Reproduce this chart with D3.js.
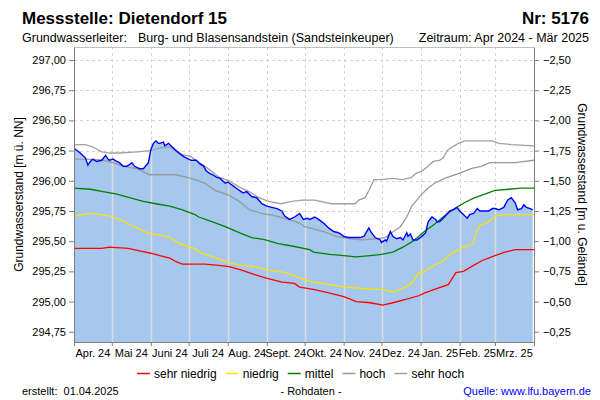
<!DOCTYPE html>
<html><head><meta charset="utf-8">
<script src="https://cdn.jsdelivr.net/npm/d3@7"></script>
<style>body{margin:0;background:#fff} svg{display:block;font-family:"Liberation Sans",Arial,sans-serif}</style>
</head><body><svg id="c" width="600" height="400"></svg>
<script>
// ---- data (day = days since 1 Apr 2024, value = m ü. NN) ----
const startDate = "2024-04-01";
const endDate = "2025-04-01";
const monthLabels = ["Apr. 24","Mai 24","Juni 24","Juli 24","Aug. 24","Sept. 24","Okt. 24","Nov. 24","Dez. 24","Jan. 25","Feb. 25","Mrz. 25"];
const leftTicks = [294.75,295.00,295.25,295.50,295.75,296.00,296.25,296.50,296.75,297.00];
const rightTicks = [-0.25,-0.50,-0.75,-1.00,-1.25,-1.50,-1.75,-2.00,-2.25,-2.50];
const groundLevel = 294.5;
const yLimits = [294.665, 297.108];

const measured = [[0,296.27],[5,296.23],[9,296.19],[11,296.13],[13,296.16],[15,296.18],[18,296.16],[22,296.17],[25,296.21],[27,296.18],[28,296.17],[31,296.18],[34,296.16],[36,296.15],[39,296.12],[42,296.12],[46,296.15],[48,296.12],[52,296.10],[55,296.10],[59,296.15],[61,296.26],[63,296.31],[65,296.33],[67,296.31],[68,296.31],[71,296.32],[72,296.29],[75,296.31],[78,296.28],[81,296.25],[87,296.20],[93,296.17],[97,296.17],[100,296.14],[103,296.12],[105,296.08],[108,296.06],[110,296.05],[113,296.03],[116,296.02],[120,295.98],[122,295.99],[126,295.96],[130,295.93],[134,295.90],[137,295.91],[141,295.87],[145,295.86],[149,295.81],[153,295.79],[157,295.78],[161,295.77],[165,295.75],[167,295.71],[171,295.68],[175,295.70],[179,295.73],[182,295.68],[185,295.69],[187,295.68],[191,295.70],[194,295.68],[198,295.65],[202,295.61],[206,295.58],[210,295.57],[214,295.54],[218,295.53],[222,295.53],[227,295.53],[230,295.54],[234,295.61],[236,295.57],[239,295.53],[243,295.51],[244,295.49],[247,295.51],[248,295.50],[251,295.58],[253,295.54],[256,295.52],[259,295.53],[261,295.51],[264,295.57],[265,295.54],[267,295.56],[269,295.51],[272,295.51],[276,295.54],[279,295.57],[281,295.66],[284,295.70],[287,295.68],[288,295.66],[290,295.66],[294,295.70],[298,295.75],[301,295.76],[304,295.78],[306,295.75],[309,295.72],[312,295.69],[314,295.72],[317,295.73],[320,295.77],[322,295.75],[326,295.75],[329,295.75],[332,295.77],[334,295.77],[337,295.76],[341,295.78],[344,295.84],[347,295.86],[350,295.82],[352,295.76],[355,295.77],[357,295.80],[359,295.78],[362,295.77],[364,295.76]];

const sehrHoch = [[0,296.30],[9,296.30],[15,296.28],[22,296.24],[28,296.23],[36,296.23],[50,296.24],[60,296.25],[68,296.27],[73,296.28],[76,296.28],[84,296.22],[93,296.20],[98,296.16],[104,296.12],[109,296.08],[115,296.03],[123,296.00],[131,295.95],[139,295.91],[147,295.86],[154,295.83],[164,295.81],[173,295.83],[181,295.84],[191,295.84],[204,295.81],[214,295.81],[223,295.81],[226,295.84],[231,295.86],[234,295.92],[238,296.01],[243,296.01],[253,296.02],[261,296.01],[268,296.03],[271,296.06],[276,296.08],[281,296.12],[285,296.16],[290,296.17],[293,296.19],[296,296.25],[300,296.28],[305,296.31],[310,296.33],[318,296.33],[332,296.33],[337,296.31],[347,296.30],[365,296.29]];

const hoch = [[0,296.18],[10,296.18],[23,296.17],[31,296.15],[39,296.12],[50,296.10],[60,296.05],[71,296.05],[81,296.05],[89,296.03],[96,296.01],[104,295.98],[112,295.92],[123,295.88],[131,295.83],[139,295.76],[149,295.73],[160,295.71],[170,295.68],[179,295.65],[183,295.62],[187,295.61],[198,295.58],[208,295.54],[219,295.52],[228,295.51],[240,295.52],[247,295.53],[252,295.57],[259,295.62],[264,295.70],[268,295.79],[272,295.84],[276,295.89],[281,295.94],[286,295.98],[294,296.02],[305,296.06],[315,296.10],[323,296.12],[330,296.15],[340,296.15],[350,296.15],[365,296.17]];

const mittel = [[0,295.94],[13,295.93],[23,295.91],[34,295.89],[44,295.86],[55,295.83],[65,295.81],[76,295.79],[86,295.76],[96,295.72],[99,295.70],[110,295.66],[120,295.62],[131,295.57],[141,295.53],[152,295.51],[162,295.48],[173,295.46],[187,295.43],[190,295.41],[203,295.39],[214,295.38],[224,295.37],[235,295.38],[244,295.39],[253,295.41],[261,295.45],[269,295.50],[278,295.58],[286,295.64],[294,295.71],[302,295.77],[310,295.82],[318,295.86],[326,295.89],[334,295.92],[345,295.93],[355,295.94],[365,295.94]];

const niedrig = [[0,295.71],[7,295.72],[13,295.73],[21,295.72],[28,295.71],[36,295.68],[44,295.64],[52,295.60],[60,295.56],[68,295.55],[76,295.53],[84,295.48],[91,295.45],[96,295.44],[99,295.41],[110,295.37],[123,295.32],[133,295.30],[144,295.29],[154,295.26],[168,295.24],[178,295.20],[187,295.17],[190,295.16],[203,295.14],[216,295.12],[227,295.11],[238,295.10],[245,295.10],[253,295.08],[261,295.11],[268,295.15],[273,295.23],[278,295.25],[284,295.29],[292,295.33],[300,295.40],[307,295.44],[317,295.48],[319,295.57],[322,295.63],[329,295.66],[335,295.71],[344,295.72],[350,295.72],[365,295.72]];

const sehrNiedrig = [[0,295.44],[22,295.44],[28,295.45],[43,295.44],[52,295.42],[61,295.40],[68,295.38],[76,295.36],[81,295.33],[86,295.31],[96,295.31],[104,295.31],[115,295.30],[123,295.29],[133,295.26],[144,295.22],[154,295.19],[165,295.16],[175,295.15],[179,295.12],[190,295.10],[203,295.07],[214,295.04],[224,295.00],[235,294.99],[245,294.97],[253,294.99],[264,295.02],[274,295.05],[278,295.07],[286,295.10],[297,295.14],[303,295.24],[309,295.25],[317,295.30],[324,295.34],[334,295.38],[342,295.41],[350,295.43],[365,295.43]];

const legendNames = ["sehr niedrig","niedrig","mittel","hoch","sehr hoch"];
const legendColors = ["#ff0000","#ffe100","#008000","#999999","#a0a0a0"];
const statSeries = [sehrNiedrig, niedrig, mittel, hoch, sehrHoch];

// ---- drawing ----
const svg = d3.select("#c");
const L = 74, R = 534, T = 47, B = 342;
const t0 = d3.isoParse(startDate), t1 = d3.isoParse(endDate);
const x = d3.scaleTime().domain([t0, t1]).range([L, R]);
const y = d3.scaleLinear().domain(yLimits).range([B, T]);
const yR = d3.scaleLinear().domain([groundLevel - yLimits[0], groundLevel - yLimits[1]]).range([B, T]);
const dateOf = d => d3.timeDay.offset(t0, d);
const months = d3.timeMonth.range(t0, t1);
const comma = f => v => d3.format(f)(v).replace(".", ",");

// dashed grid
const grid = svg.append("g").attr("stroke", "#d4d4d4").attr("stroke-dasharray", "3,3").attr("stroke-width", 1);
grid.selectAll("line.h").data(leftTicks).join("line")
  .attr("x1", L).attr("x2", R).attr("y1", d => Math.round(y(d)) + 0.5).attr("y2", d => Math.round(y(d)) + 0.5);
grid.selectAll("line.v").data(months.slice(1)).join("line")
  .attr("x1", d => Math.round(x(d)) + 0.5).attr("x2", d => Math.round(x(d)) + 0.5).attr("y1", T).attr("y2", B);

// fill under measured
const area = d3.area().x(d => x(dateOf(d[0]))).y0(B).y1(d => y(d[1]));
svg.append("path").datum(measured).attr("d", area).attr("fill", "#a6c8ee");
svg.append("clipPath").attr("id", "fillclip").append("path").datum(measured).attr("d", area);
svg.append("g").attr("clip-path", "url(#fillclip)").attr("stroke", "#dcdcdc").attr("stroke-width", 1.5)
  .selectAll("line").data(months.slice(1)).join("line")
  .attr("x1", d => Math.round(x(d)) + 0.5).attr("x2", d => Math.round(x(d)) + 0.5).attr("y1", T).attr("y2", B);

// top border
svg.append("line").attr("x1", L).attr("x2", R).attr("y1", T + 0.5).attr("y2", T + 0.5).attr("stroke", "#c0c0c0");

// stat lines
const line = d3.line().x(d => x(dateOf(d[0]))).y(d => y(d[1]));
statSeries.forEach((s, i) => {
  svg.append("path").datum(s).attr("d", line).attr("fill", "none")
    .attr("stroke", legendColors[i]).attr("stroke-width", 1.3);
});
svg.append("path").datum(measured).attr("d", line).attr("fill", "none").attr("stroke", "#0000ff").attr("stroke-width", 1.4);

// axes
const axisStyle = g => {
  g.selectAll(".domain, .tick line").attr("stroke", "#808080");
  g.selectAll("text").attr("font-size", 11).attr("fill", "#000").attr("font-family", "Liberation Sans, Arial, sans-serif");
};
svg.append("g").attr("transform", `translate(${L},0)`)
  .call(d3.axisLeft(y).tickValues(leftTicks).tickSize(5).tickSizeOuter(0).tickPadding(3).tickFormat(comma(".2f")))
  .call(axisStyle);
svg.append("g").attr("transform", `translate(${R},0)`)
  .call(d3.axisRight(yR).tickValues(rightTicks).tickSize(5).tickSizeOuter(0).tickPadding(4).tickFormat(comma(".2f")))
  .call(axisStyle);
const xa = svg.append("g").attr("transform", `translate(0,${B})`)
  .call(d3.axisBottom(x).tickValues(months.concat([t1])).tickSize(4).tickSizeOuter(0).tickFormat(""))
  .call(axisStyle);
xa.selectAll("text.ml").data(months).join("text").attr("class", "ml")
  .attr("x", d => (x(d) + x(d3.timeMonth.offset(d, 1))) / 2).attr("y", 15)
  .attr("text-anchor", "middle").attr("font-size", 11).attr("fill", "#000")
  .attr("font-family", "Liberation Sans, Arial, sans-serif").text((d, i) => monthLabels[i]);

// axis titles
svg.append("text").attr("transform", `translate(23,${(T + B) / 2}) rotate(-90)`)
  .attr("text-anchor", "middle").attr("font-size", 12).text("Grundwasserstand [m ü. NN]");
svg.append("text").attr("transform", `translate(578,${(T + B) / 2}) rotate(90)`)
  .attr("text-anchor", "middle").attr("font-size", 12).text("Grundwasserstand [m u. Gelände]");

// titles
svg.append("text").attr("x", 22).attr("y", 24).attr("font-size", 17).attr("font-weight", "bold").text("Messstelle: Dietendorf 15");
svg.append("text").attr("x", 589).attr("y", 24).attr("font-size", 17).attr("font-weight", "bold").attr("text-anchor", "end").text("Nr: 5176");
svg.append("text").attr("x", 22).attr("y", 42).attr("font-size", 12.5).text("Grundwasserleiter:");
svg.append("text").attr("x", 138).attr("y", 42).attr("font-size", 12.5).text("Burg- und Blasensandstein (Sandsteinkeuper)");
svg.append("text").attr("x", 589).attr("y", 42).attr("font-size", 12.5).attr("text-anchor", "end").text("Zeitraum: Apr 2024 - Mär 2025");

// legend
let lx = 137;
legendNames.forEach((n, i) => {
  svg.append("line").attr("x1", lx).attr("x2", lx + 13).attr("y1", 373.5).attr("y2", 373.5)
    .attr("stroke", legendColors[i]).attr("stroke-width", 1.5);
  const t = svg.append("text").attr("x", lx + 17).attr("y", 378).attr("font-size", 12).text(n);
  lx += 17 + t.node().getComputedTextLength() + 9;
});

// footer
svg.append("text").attr("x", 22).attr("y", 395).attr("font-size", 11).attr("xml:space", "preserve").text("erstellt:  01.04.2025");
svg.append("text").attr("x", 311).attr("y", 395).attr("font-size", 11).attr("text-anchor", "middle").text("- Rohdaten -");
svg.append("text").attr("x", 591).attr("y", 395).attr("font-size", 11).attr("text-anchor", "end").attr("fill", "#0000ff").text("Quelle: www.lfu.bayern.de");
</script></body></html>
